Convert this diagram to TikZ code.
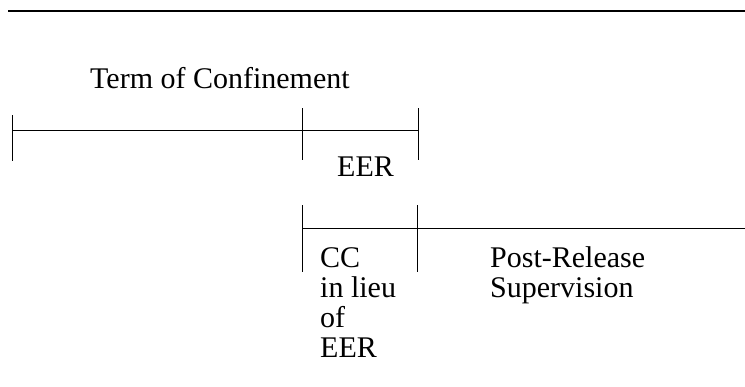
\documentclass[tikz,border=0pt]{standalone}
\usepackage{fontspec}
\setmainfont{Liberation Serif}
\begin{document}
\begin{tikzpicture}[x=1pt,y=-1pt,
  lbl/.style={font=\fontsize{30}{30}\selectfont, inner sep=0pt, anchor=base west, align=left},
  rule/.style={line width=0.8pt, line cap=butt},
  toprule/.style={line width=1.8pt}]
\useasboundingbox (0,0) rectangle (745,386);
% top rule
\coordinate (t1) at (8,11);
\coordinate (t2) at (745,11);
\draw[toprule] (t1) -- (t2);
% row 1
\node[lbl] (term) at (90,88) {Term of Confinement};
\coordinate (a0) at (12,130);
\coordinate (a1) at (302,130);
\coordinate (a2) at (418,130);
\coordinate (a0t) at (12,115);  \coordinate (a0b) at (12,161);
\coordinate (a1t) at (302,108); \coordinate (a1b) at (302,160);
\coordinate (a2t) at (418,108); \coordinate (a2b) at (418,160);
\draw[rule] (a0) -- (a2);
\draw[rule] (a0t) -- (a0b);
\draw[rule] (a1t) -- (a1b);
\draw[rule] (a2t) -- (a2b);
\node[lbl] (eer) at (337,176) {EER};
% row 2
\coordinate (b1) at (302,228);
\coordinate (b2) at (745,228);
\coordinate (b1t) at (302,205); \coordinate (b1b) at (302,272);
\coordinate (b2t) at (417,205); \coordinate (b2b) at (417,272);
\draw[rule] (b1) -- (b2);
\draw[rule] (b1t) -- (b1b);
\draw[rule] (b2t) -- (b2b);
% base anchor of a multi-line node is the last line's baseline
\node[lbl] (cc) at (320,357) {CC\\in lieu\\of\\EER};
\node[lbl] (prs) at (490,297) {Post-Release\\Supervision};
\end{tikzpicture}
\end{document}
